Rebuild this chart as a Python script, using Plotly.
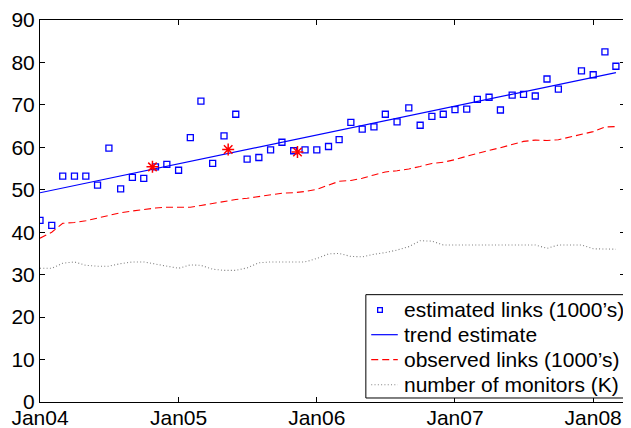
import plotly.graph_objects as go

months = [f"{y}-{m:02d}-01" for y in range(2004, 2009) for m in range(1, 13)][:51]

estimated = [42.8, 41.6, 53.2, 53.2, 53.2, 51.1, 59.8, 50.2, 52.9, 52.7,
             55.4, 56.0, 54.6, 62.3, 70.9, 56.2, 62.7, 67.8, 57.2, 57.6,
             59.4, 61.2, 59.2, 59.4, 59.4, 60.2, 61.8, 65.9, 64.3, 64.8,
             67.8, 66.0, 69.3, 65.2, 67.3, 67.8, 68.9, 69.0, 71.3, 71.8,
             68.8, 72.3, 72.5, 72.1, 76.1, 73.7, None, 78.0, 77.1, 82.5, 79.1]

observed = [38.6, 40.0, 42.1, 42.3, 42.7, 43.3, 44.0, 44.6, 45.0, 45.4,
            45.7, 45.9, 45.9, 45.9, 46.3, 46.8, 47.2, 47.7, 48.0, 48.4,
            48.9, 49.2, 49.3, 49.6, 50.1, 51.0, 52.0, 52.2, 52.7, 53.5,
            54.2, 54.5, 54.9, 55.5, 56.2, 56.5, 57.1, 57.9, 58.6, 59.3,
            59.9, 60.6, 61.4, 61.7, 61.6, 61.8, 62.4, 63.0, 63.7, 64.8, 64.9]

monitors = [31.5, 31.5, 32.7, 33.0, 32.2, 32.0, 32.0, 32.6, 33.0, 33.0,
            32.5, 32.0, 31.5, 32.3, 32.2, 31.3, 31.0, 31.0, 31.6, 32.8,
            33.0, 33.0, 33.0, 33.0, 33.8, 34.9, 35.0, 34.3, 34.2, 34.8,
            35.2, 35.8, 36.6, 38.0, 37.9, 37.0, 37.0, 37.0, 37.0, 37.0,
            37.0, 37.0, 37.0, 37.0, 36.2, 37.0, 37.0, 37.0, 36.1, 36.0, 36.0]

trend_dates = ["2004-01-01", "2008-03-01"]
trend_values = [49.3, 77.6]

star_dates = ["2004-10-24", "2005-05-12", "2005-11-11"]
star_values = [55.4, 59.5, 58.9]

tick_dates = ["2004-01-01", "2005-01-01", "2006-01-01", "2007-01-01", "2008-01-01"]
tick_labels = ["Jan04", "Jan05", "Jan06", "Jan07", "Jan08"]

legend_labels = ["estimated links (1000\u2019s)", "trend estimate",
                 "observed links (1000\u2019s)", "number of monitors (K)"]

FONT = "Liberation Sans, Arial, Helvetica, sans-serif"
BLUE = "#0000ff"
RED = "#ff0000"
GRAY = "#808080"
RED_DASH = "7px,4px"
GRAY_DOT = "1px,2.3px"

fig = go.Figure()
fig.add_trace(go.Scatter(
    x=months, y=estimated, mode="markers", name=legend_labels[0], showlegend=False,
    marker=dict(symbol="square-open", size=6, color=BLUE, line=dict(width=1.3, color=BLUE)),
))
fig.add_trace(go.Scatter(
    x=trend_dates, y=trend_values, mode="lines", name=legend_labels[1], showlegend=False,
    line=dict(color=BLUE, width=1.2),
))
fig.add_trace(go.Scatter(
    x=months, y=observed, mode="lines", name=legend_labels[2], showlegend=False,
    line=dict(color=RED, width=1.1, dash=RED_DASH),
))
fig.add_trace(go.Scatter(
    x=months, y=monitors, mode="lines", name=legend_labels[3], showlegend=False,
    line=dict(color=GRAY, width=1.1, dash=GRAY_DOT),
))
fig.add_trace(go.Scatter(
    x=star_dates, y=star_values, mode="markers", showlegend=False,
    marker=dict(symbol="asterisk-open", size=10, color=RED, line=dict(width=1.5, color=RED)),
))

# Manual legend box (MATLAB style), in paper coordinates
lx0, lx1, ly0, ly1 = 0.557, 0.9995, 0.0105, 0.281
row_y = [0.2416, 0.1762, 0.1108, 0.0453]
sample_x0, sample_x1, text_x = 0.5662, 0.6116, 0.6183
shapes = [dict(type="rect", xref="paper", yref="paper", x0=lx0, x1=lx1, y0=ly0, y1=ly1,
               line=dict(color="black", width=1), fillcolor="white", layer="above")]
styles = [None, dict(color=BLUE, width=1.2), dict(color=RED, width=1.1, dash=RED_DASH),
          dict(color=GRAY, width=1.1, dash=GRAY_DOT)]
for yy, st in zip(row_y, styles):
    if st is not None:
        shapes.append(dict(type="line", xref="paper", yref="paper", x0=sample_x0, x1=sample_x1,
                           y0=yy, y1=yy, line=st, layer="above"))
annotations = []
for yy, lab in zip(row_y, legend_labels):
    annotations.append(dict(xref="paper", yref="paper", x=text_x, y=yy, text=lab,
                            showarrow=False, xanchor="left", yanchor="middle",
                            font=dict(size=21, color="black", family=FONT)))
annotations.append(dict(xref="paper", yref="paper", x=0.5807, y=row_y[0],
                        text="", showarrow=False, width=3, height=3,
                        bordercolor=BLUE, borderwidth=1.3, borderpad=0,
                        xanchor="center", yanchor="middle"))

# page body has an 8px margin, so the figure is sized/offset to compensate
fig.update_layout(
    width=623, height=420,
    margin=dict(l=32, r=6, t=12, b=26, autoexpand=False),
    paper_bgcolor="white", plot_bgcolor="white",
    font=dict(family=FONT, size=21, color="black"),
    showlegend=False,
    shapes=shapes,
    annotations=annotations,
)
fig.update_xaxes(
    type="date", range=["2004-01-01", "2008-03-25"],
    tickvals=tick_dates, ticktext=tick_labels,
    ticks="inside", ticklen=5, tickwidth=1, tickcolor="black",
    showline=True, linecolor="black", linewidth=1, mirror="allticks",
    showgrid=False, zeroline=False, automargin=False, ticklabelstandoff=-3,
)
fig.update_yaxes(
    range=[0, 90], dtick=10, tick0=0,
    ticks="inside", ticklen=5, tickwidth=1, tickcolor="black",
    showline=True, linecolor="black", linewidth=1, mirror="allticks",
    showgrid=False, zeroline=False, automargin=False,
)

fig.write_html("out.html")
